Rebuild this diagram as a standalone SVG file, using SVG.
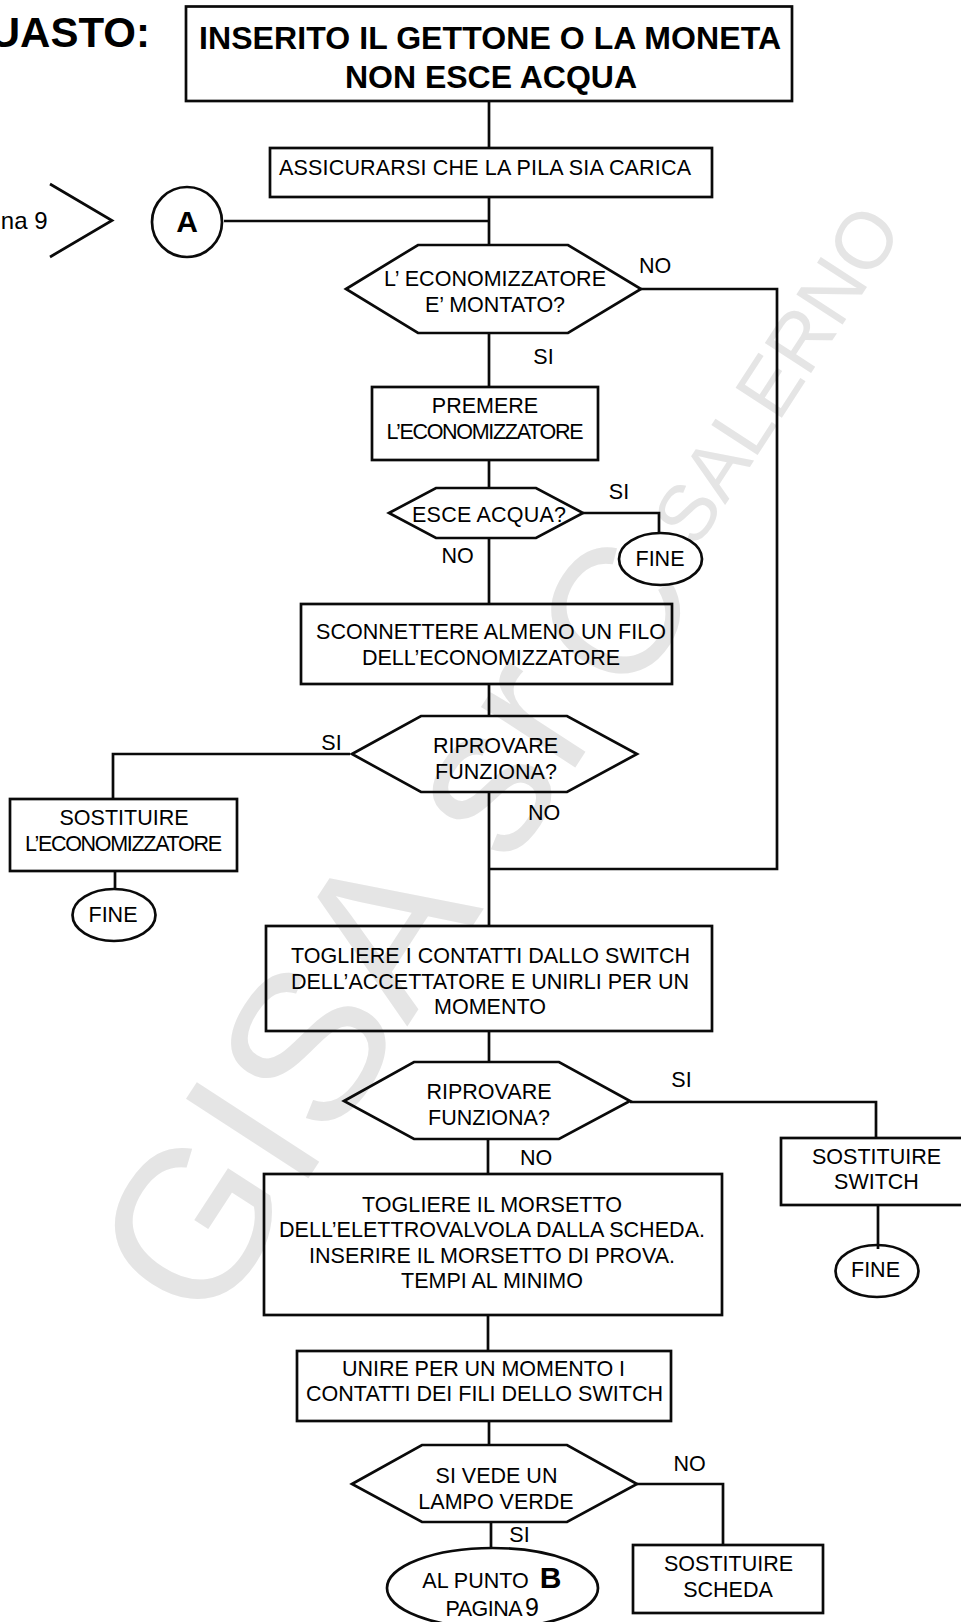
<svg xmlns="http://www.w3.org/2000/svg" width="961" height="1622" viewBox="0 0 961 1622">
<style>
text{font-family:"Liberation Sans",Arial,sans-serif;fill:#000;font-size:21.5px;text-anchor:middle}
.s{fill:none;stroke:#0a0a0a;stroke-width:2.7;stroke-linejoin:miter}
.b{font-weight:bold}
.w text{fill:#e5e5e5;text-anchor:start}
</style>
<rect width="961" height="1622" fill="#fff"/>
<g id="watermark" class="w">
<text transform="translate(208 1333) rotate(-57)" style="font-size:212px">GISA sr</text>
<text transform="translate(630.200 702.200) rotate(-57)" style="font-size:180px">C</text>
<text transform="translate(696 550) rotate(-57)" style="font-size:80px">SALERNO</text>
</g>
<g id="connectors" class="s">
<path d="M489 101V148M489 197V245M224 221H489M489 333V387M489 460V488M489 538V604M489 684V716M489 792V926M641 289H777V869H489M583 513H659V533M350 754H113V799M115 871V889M489 1031V1062M488 1139V1174M630 1102H876V1138M878 1205V1249M488 1315V1351M489 1421V1445M637 1484H723V1545M491 1522V1548"/>
</g>
<g id="title-label"><text class="b" x="150" y="47" style="font-size:42px;text-anchor:end">UASTO:</text></g>
<g id="n-title"><rect class="s" x="186" y="6.500" width="606" height="94.500"/>
<text class="b" x="490" y="49" style="font-size:32px" textLength="582">INSERITO IL GETTONE O LA MONETA</text>
<text class="b" x="491" y="88" style="font-size:32px">NON ESCE ACQUA</text></g>
<g id="n-pila"><rect class="s" x="270" y="148" width="442" height="49"/>
<text x="485" y="175" textLength="412">ASSICURARSI CHE LA PILA SIA CARICA</text></g>
<g id="n-pagina"><text x="47.500" y="229" style="font-size:24px;text-anchor:end">na 9</text>
<path class="s" d="M50 184L112 220.500L50 257"/></g>
<g id="n-a"><circle class="s" cx="187" cy="222" r="35"/>
<text class="b" x="187" y="232" style="font-size:30px">A</text></g>
<g id="n-montato"><path class="s" d="M346 289L418 245H568L641 289L568 333H418Z"/>
<text x="495" y="286" textLength="222">L’ ECONOMIZZATORE</text>
<text x="495" y="312">E’ MONTATO?</text></g>
<text x="655" y="273">NO</text>
<text x="543.500" y="364">SI</text>
<g id="n-premere"><rect class="s" x="372" y="387" width="226" height="73"/>
<text x="485" y="413">PREMERE</text>
<text x="485" y="439" textLength="197">L’ECONOMIZZATORE</text></g>
<g id="n-esce"><path class="s" d="M389 513L436 488H536L583 513L536 538H436Z"/>
<text x="489" y="522" textLength="154">ESCE ACQUA?</text></g>
<text x="619" y="499">SI</text>
<text x="457.500" y="563">NO</text>
<g id="n-fine1"><ellipse class="s" cx="660.500" cy="559" rx="41.500" ry="26"/>
<text x="660" y="566">FINE</text></g>
<g id="n-sconnettere"><rect class="s" x="301" y="604" width="371" height="80"/>
<text x="491" y="639" textLength="350">SCONNETTERE ALMENO UN FILO</text>
<text x="491" y="665" textLength="258">DELL’ECONOMIZZATORE</text></g>
<g id="n-riprovare1"><path class="s" d="M352 754L421 716H567L637 754L567 792H421Z"/>
<text x="495.500" y="753">RIPROVARE</text>
<text x="496" y="779">FUNZIONA?</text></g>
<text x="331.500" y="750">SI</text>
<text x="544" y="820">NO</text>
<g id="n-sost-eco"><rect class="s" x="10" y="799" width="227" height="72"/>
<text x="124" y="825">SOSTITUIRE</text>
<text x="123.500" y="851" textLength="197">L’ECONOMIZZATORE</text></g>
<g id="n-fine2"><ellipse class="s" cx="114" cy="915" rx="41.500" ry="26"/>
<text x="113" y="922">FINE</text></g>
<g id="n-togliere1"><rect class="s" x="266" y="926" width="446" height="105"/>
<text x="490.500" y="963" textLength="399">TOGLIERE I CONTATTI DALLO SWITCH</text>
<text x="490" y="989" textLength="398">DELL’ACCETTATORE E UNIRLI PER UN</text>
<text x="490" y="1014">MOMENTO</text></g>
<g id="n-riprovare2"><path class="s" d="M344 1101L414 1062H559L630 1101L559 1139H414Z"/>
<text x="489" y="1099">RIPROVARE</text>
<text x="489" y="1125">FUNZIONA?</text></g>
<text x="681.500" y="1087">SI</text>
<text x="536" y="1165">NO</text>
<g id="n-sost-switch"><rect class="s" x="781" y="1138" width="190" height="67"/>
<text x="876.500" y="1164">SOSTITUIRE</text>
<text x="876.500" y="1189">SWITCH</text></g>
<g id="n-fine3"><ellipse class="s" cx="877" cy="1271" rx="41.500" ry="26"/>
<text x="875.500" y="1277">FINE</text></g>
<g id="n-togliere2"><rect class="s" x="264" y="1174" width="458" height="141"/>
<text x="492" y="1212" textLength="260">TOGLIERE IL MORSETTO</text>
<text x="492" y="1237" textLength="426">DELL’ELETTROVALVOLA DALLA SCHEDA.</text>
<text x="492" y="1263" textLength="366">INSERIRE IL MORSETTO DI PROVA.</text>
<text x="492" y="1288">TEMPI AL MINIMO</text></g>
<g id="n-unire"><rect class="s" x="297" y="1351" width="374" height="70"/>
<text x="483.500" y="1376" textLength="283">UNIRE PER UN MOMENTO I</text>
<text x="484.500" y="1401" textLength="357">CONTATTI DEI FILI DELLO SWITCH</text></g>
<g id="n-lampo"><path class="s" d="M352 1484L422 1445H567L637 1484L567 1522H422Z"/>
<text x="496.500" y="1483">SI VEDE UN</text>
<text x="496" y="1509">LAMPO VERDE</text></g>
<text x="519.500" y="1542">SI</text>
<text x="689.500" y="1471">NO</text>
<g id="n-puntob"><ellipse class="s" cx="492.500" cy="1588" rx="105.500" ry="40"/>
<text x="475.500" y="1588">AL PUNTO</text>
<text class="b" x="550.500" y="1588" style="font-size:30px">B</text>
<text x="484" y="1616" textLength="77">PAGINA</text>
<text x="532" y="1616" style="font-size:25px">9</text></g>
<g id="n-sost-scheda"><rect class="s" x="633" y="1545" width="190" height="68"/>
<text x="728.500" y="1571">SOSTITUIRE</text>
<text x="728" y="1597">SCHEDA</text></g>
</svg>
